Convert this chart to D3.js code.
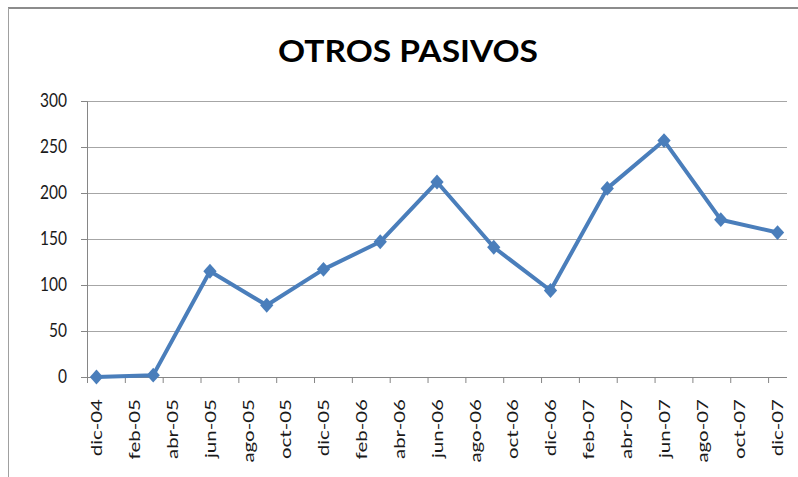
<!DOCTYPE html>
<html>
<head>
<meta charset="utf-8">
<script src="https://cdn.jsdelivr.net/npm/d3@7"></script>
<style>
  html, body { margin: 0; padding: 0; background: #fff; }
  svg { display: block; }
  text { font-family: Lato, "Open Sans", sans-serif; fill: #1a1a1a; }
</style>
</head>
<body>
<div id="chart"></div>
<script>
// ---- data ----
const title = "OTROS PASIVOS";
const tickLabels = ["dic-04","feb-05","abr-05","jun-05","ago-05","oct-05","dic-05","feb-06","abr-06","jun-06","ago-06","oct-06","dic-06","feb-07","abr-07","jun-07","ago-07","oct-07","dic-07"];
const pointDates = ["dic-04","mar-05","jun-05","sep-05","dic-05","mar-06","jun-06","sep-06","dic-06","mar-07","jun-07","sep-07","dic-07"];
const values = [0, 2, 115, 78, 117, 147, 212, 141, 94, 205, 257, 171, 157];
const yTicks = [0, 50, 100, 150, 200, 250, 300];

// ---- helpers ----
const monthNames = ["ene","feb","mar","abr","may","jun","jul","ago","sep","oct","nov","dic"];
function monthIndex(label) {
  const [m, yy] = label.split("-");
  const base = 2004 * 12 + 11; // dic-04
  return (2000 + +yy) * 12 + monthNames.indexOf(m) - base;
}

const W = 798, H = 477;
const svg = d3.select("#chart").append("svg").attr("width", W).attr("height", H);

const plot = { left: 87, right: 787, top: 101, bottom: 377 };
const nMonths = monthIndex(tickLabels[tickLabels.length - 1]) + 1; // 37 slots
const x = d3.scaleLinear().domain([0, nMonths]).range([plot.left, plot.right]);
const y = d3.scaleLinear().domain([0, 300]).range([plot.bottom, plot.top]);

// chart area border
svg.append("line").attr("x1", 8).attr("x2", W).attr("y1", 8).attr("y2", 8)
  .attr("stroke", "#8c8c8c").attr("stroke-width", 2);
svg.append("line").attr("x1", 8.5).attr("x2", 8.5).attr("y1", 8).attr("y2", H)
  .attr("stroke", "#a0a0a0").attr("stroke-width", 1);

// title
svg.append("text")
  .attr("x", 408).attr("y", 62)
  .attr("text-anchor", "middle")
  .attr("font-weight", 700)
  .attr("font-size", 30)
  .attr("textLength", 260)
  .attr("lengthAdjust", "spacingAndGlyphs")
  .style("fill", "#000")
  .text(title);

// gridlines
svg.append("g")
  .attr("transform", `translate(${plot.left},0)`)
  .call(d3.axisLeft(y).tickValues(yTicks.filter(v => v > 0)).tickSize(-(plot.right - plot.left)).tickFormat(""))
  .call(g => g.select(".domain").remove())
  .call(g => g.selectAll("line").attr("stroke", "#a6a6a6").attr("stroke-width", 1));

// y axis
const yAxis = svg.append("g")
  .attr("transform", `translate(${plot.left},0)`)
  .call(d3.axisLeft(y).tickValues(yTicks).tickSize(6).tickPadding(14))
  .call(g => g.select(".domain").attr("stroke", "#868686"))
  .call(g => g.selectAll("line").attr("stroke", "#868686"));
yAxis.selectAll("text")
  .attr("font-size", 15.5)
  .attr("font-family", "Lato, sans-serif")
  .style("fill", "#1a1a1a")
  .attr("transform", "scale(1,1.18)");

// x axis (tick marks every 2 months)
const tickIdx = d3.range(0, nMonths, 2);
svg.append("g")
  .attr("transform", `translate(0,${plot.bottom})`)
  .call(d3.axisBottom(x).tickValues(tickIdx).tickSize(6).tickFormat(""))
  .call(g => g.select(".domain").attr("stroke", "#868686").attr("d", `M${plot.left},0.5H${plot.right}`))
  .call(g => g.selectAll("line").attr("stroke", "#868686"));

// x labels, rotated
svg.append("g").selectAll("text")
  .data(tickLabels)
  .join("text")
  .attr("transform", d => `translate(${x(monthIndex(d) + 0.5)},${plot.bottom + 22}) rotate(-90) scale(1.28,1)`)
  .attr("text-anchor", "end")
  .attr("dy", "0.36em")
  .attr("font-size", 16)
  .text(d => d);

// line
const pts = pointDates.map((d, i) => ({ xi: monthIndex(d) + 0.5, v: values[i] }));
svg.append("path")
  .datum(pts)
  .attr("fill", "none")
  .attr("stroke", "#4a7ebb")
  .attr("stroke-width", 4)
  .attr("stroke-linejoin", "round")
  .attr("d", d3.line().x(p => x(p.xi)).y(p => y(p.v)));

// diamond markers
const sym = d3.symbol().type(d3.symbolSquare).size(88);
svg.append("g").selectAll("path")
  .data(pts)
  .join("path")
  .attr("d", sym)
  .attr("fill", "#4a7ebb")
  .attr("transform", p => `translate(${x(p.xi)},${y(p.v)}) scale(1,1.12) rotate(45)`);
</script>
</body>
</html>
